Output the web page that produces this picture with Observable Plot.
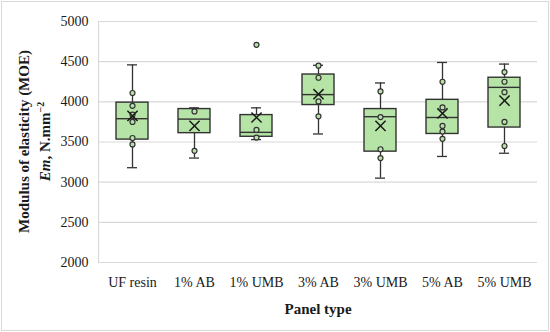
<!DOCTYPE html>
<html><head><meta charset="utf-8">
<script src="https://cdn.jsdelivr.net/npm/d3@7"></script>
<script src="https://cdn.jsdelivr.net/npm/@observablehq/plot@0.6"></script>
<style>
body{margin:0;background:#fff}
#chart svg{display:block;outline:1px solid #d9d9d9;outline-offset:-2px}
</style></head><body><div id="chart"></div>
<script>
const categories = ["UF resin","1% AB","1% UMB","3% AB","3% UMB","5% AB","5% UMB"];
const whiskerLow  = [3180,3300,3530,3600,3050,3320,3360];
const q1          = [3530,3610,3565,3960,3380,3600,3680];
const median      = [3790,3785,3620,4090,3815,3805,4180];
const q3          = [3990,3910,3835,4340,3910,4025,4300];
const whiskerHigh = [4460,3925,3925,4455,4235,4490,4470];
const means       = [3825,3700,3805,4095,3700,3855,4015];
const innerPoints = [
  [4110,3950,3840,3750,3550,3470],
  [3880,3390],
  [3650,3555],
  [4450,4300,4005,3820],
  [4130,3810,3410,3300],
  [4250,3930,3700,3630,3540],
  [4370,4250,4120,3750,3450]
];
const outliers = [[],[],[4710],[],[],[],[]];
const yTicks = [2000,2500,3000,3500,4000,4500,5000];

const stats = categories.map((c,i)=>({cat:c, lo:whiskerLow[i], q1:q1[i], med:median[i], q3:q3[i], hi:whiskerHigh[i], mean:means[i]}));
const points = categories.flatMap((c,i)=>[...innerPoints[i], ...outliers[i]].map(v=>({cat:c, v})));

const boxFill = "#b6e3a6", ink = "#333";
const chart = Plot.plot({
  width:550, height:332,
  marginLeft:98, marginRight:13, marginTop:21, marginBottom:70,
  style:{fontFamily:"'Liberation Serif', serif", fontSize:"14px", color:"#1a1a1a", background:"#fff"},
  x:{domain:categories, padding:0, label:null},
  y:{domain:[2000,5000], label:null},
  marks:[
    Plot.ruleY(yTicks,{stroke:"#d9d9d9", strokeWidth:1.2}),
    Plot.frame({anchor:"left", stroke:"#d9d9d9", strokeWidth:1.2}),
    Plot.ruleX(stats,{x:"cat", y1:"lo", y2:"hi", stroke:ink, strokeWidth:1.3}),
    Plot.tickY(stats,{x:"cat", y:"lo", insetLeft:26, insetRight:26, stroke:ink, strokeWidth:1.3}),
    Plot.tickY(stats,{x:"cat", y:"hi", insetLeft:26, insetRight:26, stroke:ink, strokeWidth:1.3}),
    Plot.barY(stats,{x:"cat", y1:"q1", y2:"q3", insetLeft:15, insetRight:15, fill:boxFill, stroke:ink, strokeWidth:1.4}),
    Plot.tickY(stats,{x:"cat", y:"med", insetLeft:15, insetRight:15, stroke:ink, strokeWidth:1.4}),
    Plot.dot(points,{x:"cat", y:"v", r:2.5, fill:boxFill, stroke:ink, strokeWidth:1.2}),
    Plot.dot(stats,{x:"cat", y:"mean", symbol:"times", r:4.7, stroke:"#1a1a1a", strokeWidth:1.5}),
    Plot.axisY(yTicks,{tickSize:0, tickPadding:10, label:null, fontSize:14, tickFormat:d=>String(d)}),
    Plot.axisX({tickSize:0, tickPadding:15, label:null, fontSize:14}),
    Plot.text(["Panel type"],{frameAnchor:"bottom", dy:51, fontWeight:"bold", fontSize:15, fill:"#1a1a1a"})
  ]
});
document.getElementById("chart").appendChild(chart);

// Y axis title (two lines, rotated)
const svg = d3.select(chart);
const cy = 141.5;
svg.append("text")
  .attr("transform",`translate(24,${cy}) rotate(-90)`)
  .attr("text-anchor","middle").attr("dominant-baseline","central")
  .attr("font-family","'Liberation Serif', serif").attr("font-size",15).attr("font-weight","bold")
  .attr("fill","#1a1a1a")
  .text("Modulus of elasticity (MOE)");
const t2 = svg.append("text")
  .attr("transform",`translate(45,${cy}) rotate(-90)`)
  .attr("text-anchor","middle")
  .attr("font-family","'Liberation Serif', serif").attr("font-size",15).attr("font-weight","bold")
  .attr("fill","#1a1a1a");
t2.append("tspan").attr("dy","0.35em").attr("font-style","italic").text("Em");
t2.append("tspan").text(", N.mm");
t2.append("tspan").attr("font-size",10).attr("dy",-6).text("−2");
</script></body></html>
